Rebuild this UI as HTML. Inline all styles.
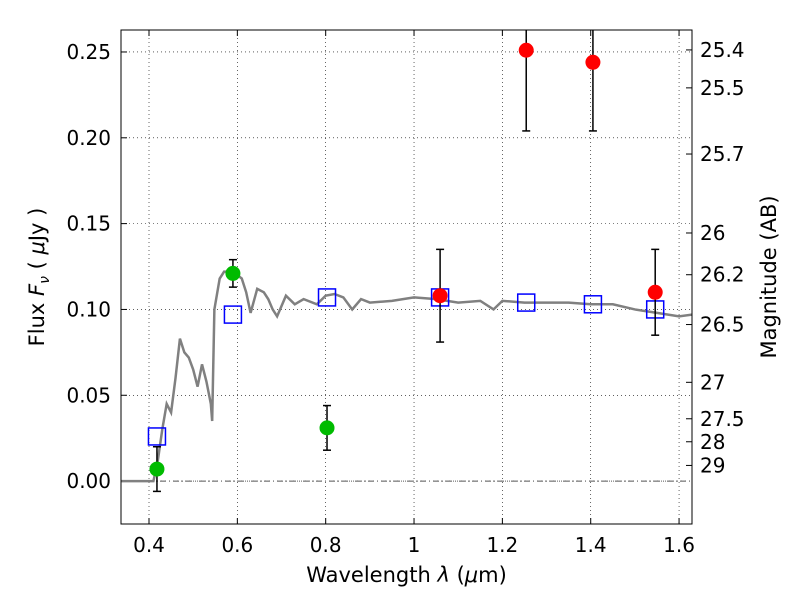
<!DOCTYPE html>
<html><head><meta charset="utf-8"><style>
body{margin:0;background:#fff;width:800px;height:600px;overflow:hidden}
text{font-family:"DejaVu Sans","Liberation Sans",sans-serif;fill:#000}
</style></head><body>
<svg id="chart" width="800" height="600" xmlns="http://www.w3.org/2000/svg"></svg>
<script>
const specWave=[0.335,0.41,0.42,0.43,0.44,0.45,0.46,0.47,0.48,0.49,0.5,0.51,0.52,0.53,0.54,0.543,0.548,0.56,0.57,0.59,0.61,0.62,0.63,0.645,0.66,0.67,0.68,0.69,0.71,0.73,0.75,0.78,0.8,0.82,0.84,0.86,0.88,0.9,0.95,1.0,1.05,1.1,1.15,1.18,1.2,1.25,1.3,1.35,1.4,1.45,1.5,1.55,1.6,1.63];
const specFlux=[0,0,0.012,0.03,0.045,0.04,0.06,0.083,0.075,0.072,0.065,0.055,0.068,0.058,0.045,0.035,0.10,0.118,0.122,0.122,0.118,0.11,0.098,0.112,0.11,0.106,0.1,0.096,0.108,0.103,0.106,0.103,0.108,0.109,0.107,0.1,0.106,0.104,0.105,0.107,0.106,0.104,0.105,0.1,0.105,0.104,0.104,0.104,0.103,0.103,0.1,0.098,0.096,0.097];
const greenWave=[0.418,0.59,0.803];
const greenFlux=[0.007,0.121,0.031];
const greenErr=[0.013,0.008,0.013];
const redWave=[1.059,1.254,1.405,1.546];
const redFlux=[0.108,0.251,0.244,0.110];
const redErr=[0.027,0.047,0.04,0.025];
const modelWave=[0.418,0.59,0.803,1.059,1.254,1.405,1.546];
const modelFlux=[0.026,0.097,0.107,0.107,0.104,0.103,0.100];
const xTicks=[0.4,0.6,0.8,1,1.2,1.4,1.6];
const xTickLabels=["0.4","0.6","0.8","1","1.2","1.4","1.6"];
const yTicks=[0,0.05,0.1,0.15,0.2,0.25];
const yTickLabels=["0.00","0.05","0.10","0.15","0.20","0.25"];
const magTicks=[25.4,25.5,25.7,26,26.2,26.5,27,27.5,28,29];

const L=121,R=692,T=30,B=524;
const X0=0.3366,X1=1.6293,Y0=-0.025,Y1=0.2628;
const sx=v=>L+(v-X0)/(X1-X0)*(R-L);
const sy=v=>B-(v-Y0)/(Y1-Y0)*(B-T);
const svg=document.getElementById('chart');
const NS='http://www.w3.org/2000/svg';
function mk(tag,attrs,parent){const e=document.createElementNS(NS,tag);for(const k in attrs)e.setAttribute(k,attrs[k]);(parent||svg).appendChild(e);return e;}
const clip=mk('clipPath',{id:'c'});mk('rect',{x:L,y:T,width:R-L,height:B-T},clip);
xTicks.forEach((v,i)=>{
  const g=mk('line',{x1:sx(v),x2:sx(v),y1:T,y2:B,stroke:'#000','stroke-width':0.6,'stroke-dasharray':'1,3'});
  
  
  mk('line',{x1:sx(v),x2:sx(v),y1:B,y2:B-6,stroke:'#000'});
  mk('line',{x1:sx(v),x2:sx(v),y1:T,y2:T+6,stroke:'#000'});
  const t=mk('text',{x:sx(v),y:B+28,'text-anchor':'middle','font-size':20});t.textContent=xTickLabels[i];
  
  
});
yTicks.forEach((v,i)=>{
  const g=mk('line',{x1:L,x2:R,y1:sy(v),y2:sy(v),stroke:'#000','stroke-width':0.6,'stroke-dasharray':'1,3'});
  
  
  mk('line',{x1:L,x2:L+6,y1:sy(v),y2:sy(v),stroke:'#000'});
  const t=mk('text',{x:L-10,y:sy(v)+7,'text-anchor':'end','font-size':20});t.textContent=yTickLabels[i];
  
  
});
magTicks.forEach(m=>{
  const f=Math.pow(10,(23.9-m)/2.5);const y=sy(f);
  mk('line',{x1:R,x2:R-6,y1:y,y2:y,stroke:'#000'});
  const t=mk('text',{x:R+8,y:y+7,'font-size':20});t.textContent=String(m);
  
  
});
const g=mk('g',{'clip-path':'url(#c)'});
const zl=mk('line',{x1:L,x2:R,y1:sy(0),y2:sy(0),stroke:'#555','stroke-width':1,'stroke-dasharray':'6,3,1,3'},g);


const sp=mk('polyline',{points:specWave.map((w,i)=>sx(w)+','+sy(specFlux[i])).join(' '),fill:'none',stroke:'#808080','stroke-width':2.5},g);


modelWave.forEach((w,i)=>{
  const r=mk('rect',{x:sx(w)-8.5,y:sy(modelFlux[i])-8.5,width:17,height:17,fill:'none',stroke:'#0000ff','stroke-width':1.5},g);
  
  
});
function pts(W,F,E,col,name){
  W.forEach((w,i)=>{
    const x=sx(w);
    mk('line',{x1:x,x2:x,y1:sy(F[i]+E[i]),y2:sy(F[i]-E[i]),stroke:'#000','stroke-width':1.5},g);
    mk('line',{x1:x-4,x2:x+4,y1:sy(F[i]+E[i]),y2:sy(F[i]+E[i]),stroke:'#000','stroke-width':1.5},g);
    mk('line',{x1:x-4,x2:x+4,y1:sy(F[i]-E[i]),y2:sy(F[i]-E[i]),stroke:'#000','stroke-width':1.5},g);
    const c=mk('circle',{cx:x,cy:sy(F[i]),r:7.5,fill:col},g);
    
    
  });
}
pts(greenWave,greenFlux,greenErr,'#00bb00','green-photometry-point');
pts(redWave,redFlux,redErr,'#ff0000','red-photometry-point');
const fr=mk('rect',{x:L,y:T,width:R-L,height:B-T,fill:'none',stroke:'#000','stroke-width':1});


const xl=mk('text',{x:(L+R)/2,y:582,'text-anchor':'middle','font-size':21});
xl.innerHTML='Wavelength  <tspan font-style="italic">λ</tspan> (<tspan font-style="italic">μ</tspan>m)';


const yl=mk('text',{x:0,y:0,'text-anchor':'middle','font-size':21,transform:`translate(44,${(T+B)/2}) rotate(-90)`});
yl.innerHTML='Flux  <tspan font-style="italic">F</tspan><tspan font-style="italic" font-size="14" dy="5">ν</tspan><tspan dy="-5">  (  </tspan><tspan font-style="italic">μ</tspan>Jy )';


const rl=mk('text',{x:0,y:0,'text-anchor':'middle','font-size':21,transform:`translate(776,${(T+B)/2}) rotate(-90)`});
rl.textContent='Magnitude (AB)';


</script>
</body></html>
